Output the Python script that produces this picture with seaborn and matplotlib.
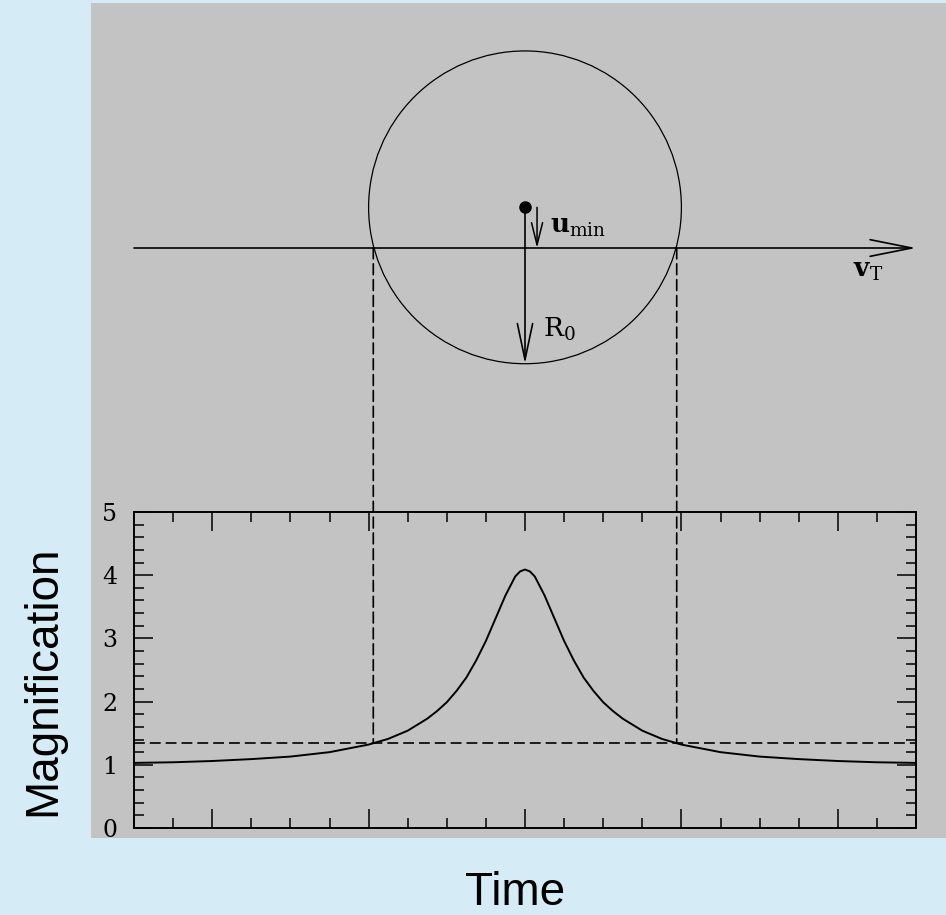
import matplotlib
matplotlib.use('Agg')
import matplotlib.pyplot as plt
from matplotlib.patches import Circle, Rectangle, ConnectionPatch
from matplotlib.ticker import MultipleLocator
import seaborn as sns

sns.set_style('ticks')
plt.rcParams['font.family'] = ['DejaVu Serif']
plt.rcParams['mathtext.fontset'] = 'dejavuserif'
plt.rcParams['text.color'] = 'black'

# light curve (time in Einstein radii, magnification)
time = [-2.5, -2.25, -2.0, -1.75, -1.5, -1.25, -1.0, -0.875, -0.75, -0.625,
        -0.5625, -0.5, -0.4375, -0.375, -0.3125, -0.25, -0.1875, -0.125,
        -0.0625, -0.03125, 0.0, 0.03125, 0.0625, 0.125, 0.1875, 0.25, 0.3125,
        0.375, 0.4375, 0.5, 0.5625, 0.625, 0.75, 0.875, 1.0, 1.25, 1.5, 1.75,
        2.0, 2.25, 2.5]
magnification = [1.03, 1.04, 1.06, 1.09, 1.13, 1.20, 1.32, 1.41, 1.54, 1.73,
                 1.85, 1.99, 2.17, 2.38, 2.65, 2.96, 3.32, 3.68,
                 3.98, 4.06, 4.09, 4.06, 3.98, 3.68, 3.32, 2.96, 2.65,
                 2.38, 2.17, 1.99, 1.85, 1.73, 1.54, 1.41, 1.32, 1.20, 1.13, 1.09,
                 1.06, 1.04, 1.03]

# geometry of the sketch above
u_min = 0.26
r_einstein = 1.0
crossings = [-0.97, 0.97]
threshold = 1.34

W, H = 946, 915
bg = '#d5ebf6'
gray = '#c3c3c3'
dash = (0, (6.5, 3))

fig = plt.figure(figsize=(W / 100, H / 100), dpi=100, facecolor=bg)


def fx(px):
    return px / W


def fy(py):
    return 1 - py / H


fig.patches.append(Rectangle((fx(90.5), fy(838)), (946 - 90.5) / W, (838 - 3) / H,
                             transform=fig.transFigure, facecolor=gray,
                             edgecolor='none', zorder=-1))

# lower panel: light curve
ax = fig.add_axes([fx(134), fy(828), (916 - 134) / W, (828 - 512) / H])
ax.set_facecolor('none')
sns.lineplot(x=time, y=magnification, ax=ax, color='black', lw=1.4)
ax.axhline(threshold, color='black', lw=1.2, ls=dash)
ax.set_xlim(-2.5, 2.5)
ax.set_ylim(0, 5)
ax.xaxis.set_major_locator(MultipleLocator(1))
ax.xaxis.set_minor_locator(MultipleLocator(0.25))
ax.yaxis.set_major_locator(MultipleLocator(1))
ax.yaxis.set_minor_locator(MultipleLocator(0.2))
ax.tick_params(which='both', direction='in', top=True, right=True, width=1.1,
               colors='black')
ax.tick_params(which='major', length=14)
ax.tick_params(which='minor', length=7)
ax.tick_params(axis='x', labelbottom=False)
ax.tick_params(axis='y', which='major', pad=12, labelsize=17)
for s in ax.spines.values():
    s.set_linewidth(1.4)
    s.set_color('black')
ax.set_xlabel('')
ax.set_ylabel('')

# upper panel: lens geometry, same x scale as the light curve
scale = (916 - 134) / 5.0
y_top = 248 / scale
top = fig.add_axes([fx(134), 0, (916 - 134) / W, 1])
top.set_xlim(-2.5, 2.5)
top.set_ylim(y_top - H / scale, y_top)
top.axis('off')

top.add_patch(Circle((0, u_min), r_einstein, fill=False, lw=0.9, ec='black'))
top.plot(0, u_min, 'o', ms=8, color='black')
top.annotate('', xy=(2.5, 0), xytext=(-2.5, 0),
             arrowprops=dict(arrowstyle='->,head_length=3.0,head_width=0.6',
                             lw=1.2, color='black', shrinkA=0, shrinkB=0,
                             mutation_scale=10))
top.annotate('', xy=(0, u_min - r_einstein), xytext=(0, u_min),
             arrowprops=dict(arrowstyle='->,head_length=2.6,head_width=0.55',
                             lw=1.2, color='black', shrinkA=0, shrinkB=0,
                             mutation_scale=10))
top.annotate('', xy=(0.077, 0), xytext=(0.077, u_min),
             arrowprops=dict(arrowstyle='->,head_length=1.6,head_width=0.4',
                             lw=1.1, color='black', shrinkA=0, shrinkB=0,
                             mutation_scale=10))
top.text(0.16, 0.096, r'$\mathbf{u}_{\mathrm{min}}$', fontsize=19, va='baseline')
top.text(0.115, -0.57, r'$\mathrm{R}_{0}$', fontsize=19, va='baseline')
top.text(2.097, -0.185, r'$\mathbf{v}_{\mathrm{T}}$', fontsize=19, va='baseline')

for xc in crossings:
    con = ConnectionPatch(xyA=(xc, 0), coordsA=top.transData,
                          xyB=(xc, threshold), coordsB=ax.transData,
                          color='black', lw=1.2, linestyle=dash)
    fig.add_artist(con)

# the gray panel cuts the bottom of the "0" label
fig.patches.append(Rectangle((fx(90), fy(860)), 50 / W, 22 / H,
                             transform=fig.transFigure, facecolor=bg,
                             edgecolor='none', zorder=5))

fig.text(fx(43.5), fy(681), 'Magnification', rotation=90, ha='center',
         va='center', fontsize=33, family='Liberation Sans', color='black')
fig.text(fx(515), fy(893), 'Time', ha='center', va='center', fontsize=33,
         family='Liberation Sans', color='black')

fig.savefig('out.png', dpi=100, facecolor=bg)
